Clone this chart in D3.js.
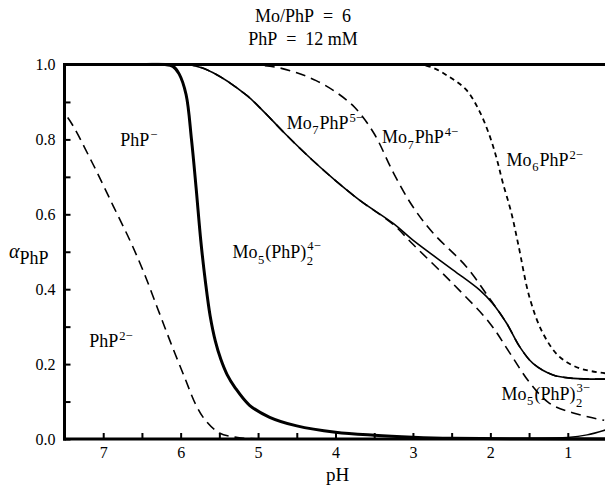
<!DOCTYPE html>
<html><head><meta charset="utf-8">
<script src="https://cdn.jsdelivr.net/npm/d3@7"></script>
<style>
body{margin:0;background:#fff}
svg{display:block}
text{font-family:"Liberation Serif","Times New Roman",serif;fill:#000}
</style>
</head><body>
<svg id="c" width="605" height="486"></svg>
<script>
// ---------- data ----------
const titleLines = ["Mo/PhP\u2002=\u20026", "PhP\u2002=\u200212 mM"];
const xTickValues = [7, 6.5, 6, 5.5, 5, 4.5, 4, 3.5, 3, 2.5, 2, 1.5, 1];
const xTickLabels = ["7", "", "6", "", "5", "", "4", "", "3", "", "2", "", "1"];
const yTickValues = [0, 0.1, 0.2, 0.3, 0.4, 0.5, 0.6, 0.7, 0.8, 0.9, 1.0];
const yTickLabels = ["0.0", "", "0.2", "", "0.4", "", "0.6", "", "0.8", "", "1.0"];

// PhP2- / PhP- boundary (long dash)
const curveA_pH    = [7.6, 7.45, 7.14, 6.87, 6.65, 6.48, 6.30, 6.13, 5.95, 5.80, 5.68, 5.50, 5.30, 5.10, 4.80, 4.0, 0.5];
const curveA_alpha = [0.89, 0.856, 0.737, 0.622, 0.528, 0.447, 0.350, 0.258, 0.165, 0.090, 0.050, 0.016, 0.005, 0.001, 0, 0, 0];
// PhP- / Mo5(PhP)2 4- boundary (thick solid)
const curveB_pH    = [7.6, 6.5, 6.2, 6.1, 6.02, 5.93, 5.86, 5.80, 5.74, 5.68, 5.62, 5.55, 5.48, 5.40, 5.30, 5.11, 4.85, 4.5, 4.0, 3.5, 3.0, 2.5, 0.5];
const curveB_alpha = [1, 1, 1, 0.995, 0.975, 0.92, 0.80, 0.67, 0.53, 0.42, 0.33, 0.26, 0.212, 0.172, 0.138, 0.09, 0.058, 0.035, 0.018, 0.01, 0.005, 0.002, 0];
// Mo5(PhP)2 4- / Mo7PhP5- boundary (thin solid)
const curveC_pH    = [7.6, 6.2, 5.85, 5.58, 5.15, 4.93, 4.65, 4.3, 4.0, 3.69, 3.25, 3.0, 2.48, 2.14, 1.97, 1.79, 1.62, 1.45, 1.19, 0.93, 0.5];
const curveC_alpha = [1, 1, 0.998, 0.978, 0.918, 0.875, 0.815, 0.745, 0.69, 0.638, 0.575, 0.531, 0.451, 0.398, 0.362, 0.309, 0.246, 0.202, 0.171, 0.162, 0.16];
// Mo7PhP5- / Mo7PhP4- boundary (long dash)
const curveD_pH    = [7.6, 5.3, 5.0, 4.75, 4.5, 4.25, 4.0, 3.75, 3.5, 3.25, 3.0, 2.74, 2.31, 2.01, 1.79, 1.62, 1.45, 1.19, 0.93, 0.5];
const curveD_alpha = [1, 1, 0.998, 0.992, 0.978, 0.957, 0.927, 0.885, 0.815, 0.71, 0.62, 0.55, 0.46, 0.375, 0.309, 0.246, 0.202, 0.171, 0.162, 0.16];
// Mo5(PhP)2 4- / Mo5(PhP)2 3- boundary (long dash)
const curveE_pH    = [7.6, 6.2, 5.85, 5.58, 5.15, 4.93, 4.65, 4.3, 4.0, 3.69, 3.25, 3.0, 2.49, 2.01, 1.75, 1.49, 1.24, 0.94, 0.53];
const curveE_alpha = [1, 1, 0.998, 0.978, 0.918, 0.875, 0.815, 0.745, 0.69, 0.638, 0.572, 0.52, 0.416, 0.31, 0.23, 0.15, 0.096, 0.07, 0.05];
// Mo7PhP4- / Mo6PhP2- boundary (short dash)
const curveF_pH    = [7.6, 3.2, 2.8, 2.53, 2.31, 2.14, 2.01, 1.92, 1.84, 1.73, 1.64, 1.49, 1.32, 1.11, 0.85, 0.5];
const curveF_alpha = [1, 1, 0.995, 0.967, 0.932, 0.875, 0.81, 0.75, 0.685, 0.605, 0.52, 0.375, 0.282, 0.22, 0.189, 0.175];
// low-pH minor species (thin solid)
const curveG_pH    = [2.4, 1.5, 1.0, 0.75, 0.5];
const curveG_alpha = [0, 0.001, 0.004, 0.011, 0.025];

const speciesLabels = [
  {pH: 6.78, a: 0.782, parts: [{n: "PhP"}, {sup: "\u2212"}]},
  {pH: 7.18, a: 0.246, parts: [{n: "PhP"}, {sup: "2\u2212"}]},
  {pH: 5.33, a: 0.483, parts: [{n: "Mo"}, {sub: "5"}, {n: "(PhP)"}, {sub: "2", sup: "4\u2212"}]},
  {pH: 4.63, a: 0.828, parts: [{n: "Mo"}, {sub: "7"}, {n: "PhP"}, {sup: "5\u2212"}]},
  {pH: 3.40, a: 0.790, parts: [{n: "Mo"}, {sub: "7"}, {n: "PhP"}, {sup: "4\u2212"}]},
  {pH: 1.79, a: 0.729, parts: [{n: "Mo"}, {sub: "6"}, {n: "PhP"}, {sup: "2\u2212"}]},
  {pH: 1.855, a: 0.104, parts: [{n: "Mo"}, {sub: "5"}, {n: "(PhP)"}, {sub: "2", sup: "3\u2212"}]}
];

// ---------- chart ----------
const svg = d3.select("#c");
const L = 64.5, R = 606.5, T = 64.5, B = 439;
const x = d3.scaleLinear().domain([7.5, 0.5]).range([L, R]);
const y = d3.scaleLinear().domain([0, 1]).range([B, T]);

svg.append("clipPath").attr("id", "clip").append("rect")
  .attr("x", L).attr("y", T - 2).attr("width", R - L).attr("height", B - T + 4);

const line = d3.line().x(d => x(d[0])).y(d => y(d[1])).curve(d3.curveCatmullRom.alpha(0.5));
const curves = [
  {pH: curveA_pH, a: curveA_alpha, w: 1.6, dash: "10,6"},
  {pH: curveG_pH, a: curveG_alpha, w: 1.5, dash: null},
  {pH: curveE_pH, a: curveE_alpha, w: 1.6, dash: "10,6"},
  {pH: curveD_pH, a: curveD_alpha, w: 1.6, dash: "10,6"},
  {pH: curveC_pH, a: curveC_alpha, w: 1.6, dash: null},
  {pH: curveF_pH, a: curveF_alpha, w: 1.8, dash: "5,4"},
  {pH: curveB_pH, a: curveB_alpha, w: 3, dash: null}
];
const gC = svg.append("g").attr("clip-path", "url(#clip)");
curves.forEach(c => {
  const pts = c.pH.map((p, i) => [p, c.a[i]]).sort((p, q) => q[0] - p[0]);
  gC.append("path").attr("d", line(pts)).attr("fill", "none").attr("stroke", "#000")
    .attr("stroke-width", c.w).attr("stroke-dasharray", c.dash);
});

// axes
const yAxis = d3.axisLeft(y).tickValues(yTickValues).tickSize(-6).tickPadding(9)
  .tickFormat((d, i) => yTickLabels[i]);
const xAxis = d3.axisBottom(x).tickValues(xTickValues).tickSize(-6).tickPadding(8)
  .tickFormat((d, i) => xTickLabels[i]);
const gy = svg.append("g").attr("transform", `translate(${L},0)`).call(yAxis);
const gx = svg.append("g").attr("transform", `translate(0,${B})`).call(xAxis);
[gy, gx].forEach(g => {
  g.select(".domain").remove();
  g.selectAll("line").attr("stroke", "#000").attr("stroke-width", 2);
  g.selectAll("text").attr("font-size", 16).attr("font-family", '"Liberation Serif",serif');
});
// frame lines
svg.append("line").attr("x1", L).attr("x2", L).attr("y1", T - 1.5).attr("y2", B + 1.5).attr("stroke", "#000").attr("stroke-width", 3);
svg.append("line").attr("x1", L - 1.5).attr("x2", 605).attr("y1", B).attr("y2", B).attr("stroke", "#000").attr("stroke-width", 3);
svg.append("line").attr("x1", L - 1.5).attr("x2", 605).attr("y1", T).attr("y2", T).attr("stroke", "#000").attr("stroke-width", 3);

// titles
titleLines.forEach((t, i) => {
  svg.append("text").attr("x", 303).attr("y", 22 + i * 23).attr("text-anchor", "middle")
    .attr("font-size", 18).text(t);
});
// axis labels
svg.append("text").attr("x", x(4) + 2).attr("y", 481).attr("text-anchor", "middle").attr("font-size", 19).text("pH");
const yl = svg.append("text").attr("x", 9).attr("y", 258).attr("font-size", 20);
yl.append("tspan").attr("font-style", "italic").text("\u03b1");
yl.append("tspan").attr("dy", 6).attr("font-size", 18).text("PhP");

// rich labels: one <text> per label, tspans positioned absolutely
function measure(str, fs) {
  const t = svg.append("text").attr("font-size", fs).text(str);
  const w = t.node().getComputedTextLength();
  t.remove();
  return w;
}
function rich(px, py, parts, fs) {
  const small = fs * 0.7;
  const t = svg.append("text").attr("font-size", fs);
  let cx = px;
  parts.forEach(p => {
    if (p.n !== undefined) {
      t.append("tspan").attr("x", cx).attr("y", py).text(p.n);
      cx += measure(p.n, fs);
    } else {
      let w = 0;
      const stacked = p.sub !== undefined && p.sup !== undefined;
      if (p.sub !== undefined) {
        t.append("tspan").attr("x", cx + 0.5).attr("y", py + fs * (stacked ? 0.38 : 0.3)).attr("font-size", small).text(p.sub);
        w = Math.max(w, measure(p.sub, small));
      }
      if (p.sup !== undefined) {
        t.append("tspan").attr("x", cx + 1).attr("y", py - fs * (stacked ? 0.47 : 0.4)).attr("font-size", small).text(p.sup);
        w = Math.max(w, measure(p.sup, small));
      }
      cx += w + 1.5;
    }
  });
}
speciesLabels.forEach(l => rich(x(l.pH), y(l.a), l.parts, 18));
</script>
</body></html>
